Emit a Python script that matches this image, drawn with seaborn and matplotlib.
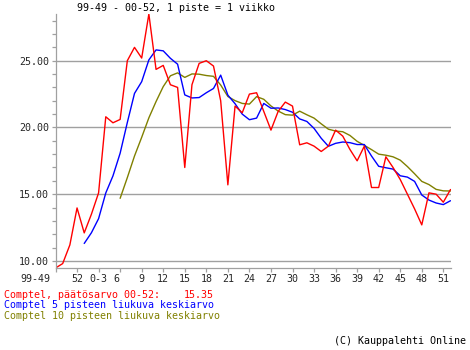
import numpy as np
import pandas as pd
import matplotlib
matplotlib.use("Agg")
import matplotlib.pyplot as plt
import matplotlib.transforms as mtransforms
from matplotlib.ticker import FixedLocator, MultipleLocator
import seaborn as sns

# ---- data ----
weeks = ["99-49", "99-50", "99-51", "99-52"] + [f"00-{w:02d}" for w in range(1, 53)]

close = [9.47, 9.8, 11.2, 13.97, 12.1, 13.5, 15.1, 20.8, 20.35, 20.6,
         25.0, 26.0, 25.2, 28.5, 24.35, 24.65, 23.2, 23.0, 17.0, 23.2,
         24.8, 25.0, 24.6, 22.0, 15.7, 21.6, 21.1, 22.5, 22.6, 21.2,
         19.8, 21.2, 21.9, 21.6, 18.7, 18.85, 18.6, 18.2, 18.6, 19.8,
         19.35, 18.35, 17.5, 18.6, 15.5, 15.5, 17.8, 17.0, 16.1, 15.0,
         13.9, 12.7, 15.1, 15.0, 14.4, 15.35]

ma5 = [np.nan, np.nan, np.nan, np.nan,
       11.31, 12.11, 13.17, 15.09, 16.37, 18.07, 20.37, 22.55, 23.43, 25.06,
       25.81, 25.74, 25.18, 24.74, 22.44, 22.21, 22.24, 22.60, 22.92, 23.92,
       22.42, 21.78, 21.00, 20.58, 20.70, 21.80, 21.44, 21.46, 21.34, 21.14,
       20.64, 20.45, 19.93, 19.19, 18.59, 18.81, 18.91, 18.86, 18.72, 18.72,
       17.86, 17.09, 16.98, 16.88, 16.38, 16.28, 15.96, 14.94, 14.56, 14.34,
       14.22, 14.51]

ma10 = [np.nan] * 9 + [
        14.69, 16.24, 17.86, 19.26, 20.72, 21.94, 23.06, 23.87, 24.09, 23.75,
        24.01, 23.99, 23.89, 23.83, 23.18, 22.32, 22.01, 21.80, 21.75, 22.31,
        22.11, 21.61, 21.23, 20.96, 20.92, 21.22, 20.95, 20.70, 20.27, 19.87,
        19.73, 19.68, 19.40, 18.96, 18.66, 18.34, 18.00, 17.92, 17.80, 17.55,
        17.07, 16.53, 15.96, 15.72, 15.36, 15.25, 15.24]

tick_weeks = ["99-49", "99-52", "00-03", "00-06", "00-09", "00-12", "00-15",
              "00-18", "00-21", "00-24", "00-27", "00-30", "00-33", "00-36",
              "00-39", "00-42", "00-45", "00-48", "00-51"]
tick_labels = ["99-49", "52", "0-3", "6", "9", "12", "15", "18", "21", "24",
               "27", "30", "33", "36", "39", "42", "45", "48", "51"]
y_ticks = [10, 15, 20, 25]
y_tick_labels = ["10.00", "15.00", "20.00", "25.00"]

title = "99-49 - 00-52, 1 piste = 1 viikko"
legend_close = "Comptel, päätösarvo 00-52:"
last_value = "15.35"
legend_ma5 = "Comptel 5 pisteen liukuva keskiarvo"
legend_ma10 = "Comptel 10 pisteen liukuva keskiarvo"
copyright_text = "(C) Kauppalehti Online"

# ---- build table ----
df = pd.DataFrame({"week": weeks, "close": close, "ma5": ma5, "ma10": ma10})
df["pos"] = np.arange(len(df))
pos_of = dict(zip(df["week"], df["pos"]))

# ---- style ----
sns.set_style("white")
FONT = ["DejaVu Sans Mono"]
plt.rcParams["font.family"] = FONT
FS = 7.2
GRID = "#a0a0a0"

W, H = 470, 350
fig = plt.figure(figsize=(W / 100, H / 100), dpi=100)
ax = fig.add_axes([55.5 / W, 1 - 268 / H, (450.5 - 55.5) / W, (268 - 14.0) / H])

sns.lineplot(data=df, x="pos", y="ma10", color="#808000", lw=1.0, ax=ax)
sns.lineplot(data=df, x="pos", y="ma5", color="#0000ff", lw=1.0, ax=ax)
sns.lineplot(data=df, x="pos", y="close", color="#ff0000", lw=1.0, ax=ax)

ax.set_xlim(0, len(df) - 1)
ax.set_ylim(min(close), max(close))
ax.set_xlabel("")
ax.set_ylabel("")

for s in ["top", "right"]:
    ax.spines[s].set_visible(False)
for s in ["left", "bottom"]:
    ax.spines[s].set_color(GRID)
    ax.spines[s].set_linewidth(0.9)

ax.yaxis.set_major_locator(FixedLocator(y_ticks))
ax.set_yticklabels(y_tick_labels)
ax.yaxis.set_minor_locator(MultipleLocator(1))
ax.yaxis.grid(True, which="major", color=GRID, lw=1.0)
ax.tick_params(axis="y", which="both", direction="out", length=3, width=0.9,
               color=GRID, labelsize=FS, pad=1.5, left=True)

ax.xaxis.set_major_locator(FixedLocator([pos_of[w] for w in tick_weeks]))
ax.set_xticklabels(tick_labels)
ax.tick_params(axis="x", which="major", direction="out", length=3, width=0.9,
               color=GRID, labelsize=FS, pad=1.0, bottom=True)

# first label sits left of the axis start, "6" slightly shifted
for lab in ax.get_xticklabels():
    if lab.get_text() == "99-49":
        lab.set_ha("right")
        lab.set_transform(lab.get_transform() +
                          mtransforms.ScaledTranslation(-5 / 100, 0, fig.dpi_scale_trans))
    elif lab.get_text() == "6":
        lab.set_transform(lab.get_transform() +
                          mtransforms.ScaledTranslation(-3.5 / 100, 0, fig.dpi_scale_trans))

# ---- texts ----
fig.text(77 / W, 1 - 8 / H, title, ha="left", va="center", fontsize=FS, color="black")
fig.text(4.5 / W, 1 - 295 / H, legend_close, ha="left", va="center", fontsize=FS, color="#ff0000")
fig.text(184 / W, 1 - 295 / H, last_value, ha="left", va="center", fontsize=FS, color="#ff0000")
fig.text(4.5 / W, 1 - 305.5 / H, legend_ma5, ha="left", va="center", fontsize=FS, color="#0000ff")
fig.text(4.5 / W, 1 - 316 / H, legend_ma10, ha="left", va="center", fontsize=FS, color="#808000")
fig.text(466 / W, 1 - 340.5 / H, copyright_text, ha="right", va="center", fontsize=FS, color="black")

fig.savefig("out.png", dpi=100, facecolor="white")
